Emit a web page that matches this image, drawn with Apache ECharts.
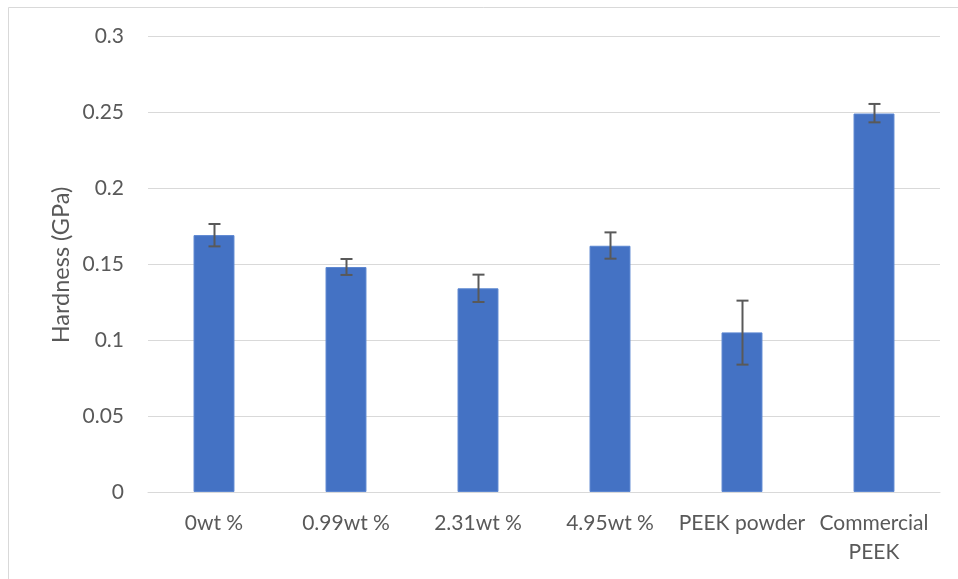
<!DOCTYPE html>
<html>
<head>
<meta charset="utf-8">
<script src="https://cdn.jsdelivr.net/npm/echarts@6/dist/echarts.min.js"></script>
<style>
  html, body { margin: 0; padding: 0; background: #fff; }
  #chart { width: 958px; height: 579px; }
</style>
</head>
<body>
<div id="chart"></div>
<script>
// Hardness measurements per sample
const categories = ['0wt %', '0.99wt %', '2.31wt %', '4.95wt %', 'PEEK powder', 'Commercial\nPEEK'];
const hardness = [0.169, 0.148, 0.134, 0.162, 0.105, 0.249];
const errLow = [0.1616, 0.1428, 0.125, 0.1535, 0.0838, 0.2432];
const errHigh = [0.1763, 0.1533, 0.143, 0.1708, 0.1259, 0.2553];
const yTicks = { min: 0, max: 0.3, interval: 0.05 };

const textColor = '#595959';
const fontFamily = 'Lato, "Open Sans", sans-serif';

const chart = echarts.init(document.getElementById('chart'), null, { renderer: 'canvas' });

const errorData = categories.map((c, i) => [i, errLow[i], errHigh[i]]);

chart.setOption({
  animation: false,
  backgroundColor: '#fff',
  grid: { left: 148, right: 18, top: 36, bottom: 87, containLabel: false },
  xAxis: {
    type: 'category',
    data: categories,
    axisLine: { show: true, lineStyle: { color: '#d9d9d9', width: 1 } },
    axisTick: { show: false },
    axisLabel: {
      color: textColor, fontSize: 21, fontFamily: fontFamily,
      margin: 17, lineHeight: 29, interval: 0
    }
  },
  yAxis: {
    type: 'value',
    min: yTicks.min, max: yTicks.max, interval: yTicks.interval,
    axisLine: { show: false },
    axisTick: { show: false },
    splitLine: { lineStyle: { color: '#d9d9d9', width: 1 } },
    axisLabel: {
      color: textColor, fontSize: 21, fontFamily: fontFamily, margin: 24,
      formatter: v => String(+v.toFixed(2))
    }
  },
  graphic: [
    {
      type: 'rect', silent: true,
      shape: { x: 8.5, y: 7.5, width: 1000, height: 1000 },
      style: { fill: 'none', stroke: '#d9d9d9', lineWidth: 1 }
    },
    {
      type: 'text', silent: true,
      x: 61, y: 265, rotation: Math.PI / 2,
      style: {
        text: 'Hardness (GPa)', fill: textColor, fontSize: 23.5, fontFamily: fontFamily,
        align: 'center', verticalAlign: 'middle'
      }
    }
  ],
  series: [
    {
      type: 'bar',
      data: hardness,
      barWidth: '31%',
      itemStyle: { color: '#4472c4', borderColor: '#5b86d1', borderWidth: 1 }
    },
    {
      type: 'custom',
      data: errorData,
      z: 10,
      renderItem: function (params, api) {
        const x = api.value(0);
        const lo = api.coord([x, api.value(1)]);
        const hi = api.coord([x, api.value(2)]);
        const cx = Math.round(lo[0]) + 0.5;
        const w = 6;
        const style = { stroke: '#595959', lineWidth: 2 };
        return {
          type: 'group',
          children: [
            { type: 'line', shape: { x1: cx, y1: hi[1], x2: cx, y2: lo[1] }, style: style },
            { type: 'line', shape: { x1: cx - w, y1: hi[1], x2: cx + w, y2: hi[1] }, style: style },
            { type: 'line', shape: { x1: cx - w, y1: lo[1], x2: cx + w, y2: lo[1] }, style: style }
          ]
        };
      }
    }
  ]
});
</script>
</body>
</html>
